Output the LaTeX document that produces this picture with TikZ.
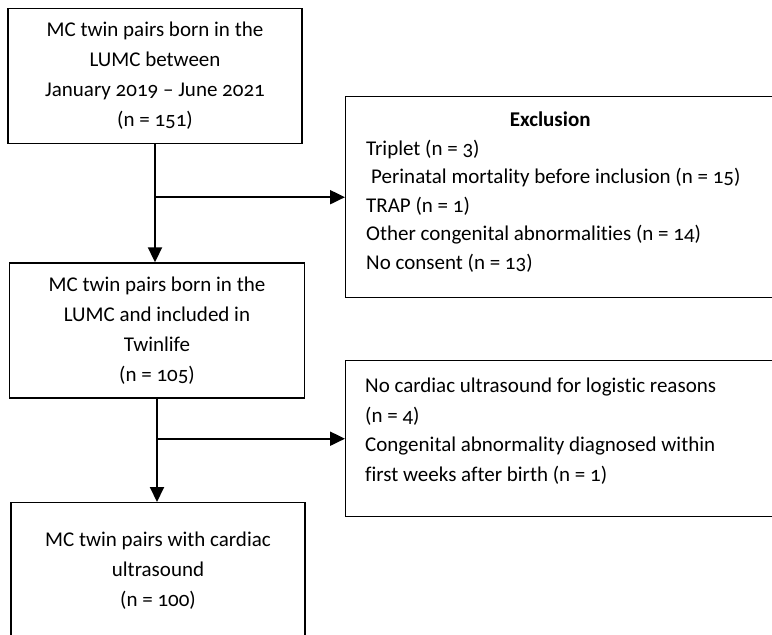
\documentclass[tikz,border=0pt]{standalone}
\usepackage{fontspec}
\setmainfont{Carlito}[Numbers=OldStyle, Ligatures={TeX,NoCommon}]
\usetikzlibrary{shapes,arrows.meta,positioning}
\tikzstyle{arrow} = [line width=2pt,-{Triangle[length=15pt,width=14pt]}]
\tikzstyle{box} = [draw, line width=1.4pt, rectangle, align=center, inner sep=0pt]
\tikzstyle{list} = [anchor=north west, align=left, inner sep=0pt]

\begin{document}
\begin{tikzpicture}[
        x=1pt, y=1pt,
        every node/.style={font=\fontsize{21pt}{30pt}\selectfont}
        ]
        \useasboundingbox (0,0) rectangle (772,-635);
        \clip (0,0) rectangle (772,-635);
        \node[box, minimum width=294pt, minimum height=135pt] (born) at (155,-76)
            {MC twin pairs born in the\\ LUMC between\\ January 2019 -- June 2021\\ (n = 151)};
        \node[box, minimum width=295pt, minimum height=135pt] (included) at (157,-330.5)
            {MC twin pairs born in the\\ LUMC and included in\\ Twinlife\\ (n = 105)};
        \node[box, minimum width=294pt, minimum height=136pt, anchor=north] (ultra) at (158,-502)
            {MC twin pairs with cardiac\\ ultrasound\\ (n = 100)};
        % exclusion boxes, open to the right
        \node[box, anchor=north west, minimum width=460pt, minimum height=201pt] (excl) at (345,-96) {};
        \node[list, font=\fontsize{21pt}{28.5pt}\selectfont] (excltext)
            at ([xshift=21pt, yshift=-16pt]excl.north west)
            {\makebox[368pt]{\bfseries Exclusion}\\
             Triplet (n = 3)\\
             \hspace*{5pt}Perinatal mortality before inclusion (n = 15)\\
             TRAP (n = 1)\\
             Other congenital abnormalities (n = 14)\\
             No consent (n = 13)};
        \node[box, anchor=north west, minimum width=460pt, minimum height=156pt] (logistic) at (345,-360) {};
        \node[list, font=\fontsize{21pt}{29.5pt}\selectfont] (logistictext)
            at ([xshift=20pt, yshift=-18pt]logistic.north west)
            {No cardiac ultrasound for logistic reasons\\
             (n = 4)\\
             Congenital abnormality diagnosed within\\
             first weeks after birth (n = 1)};
        % connectors
        \draw[arrow] (born) -- (born.south |- included.north);
        \draw[arrow] (born.south |- excl.west) -- (excl.west);
        \draw[arrow] (included) -- (included.south |- ultra.north);
        \draw[arrow] (included.south |- logistic.west) -- (logistic.west);
\end{tikzpicture}
\end{document}
